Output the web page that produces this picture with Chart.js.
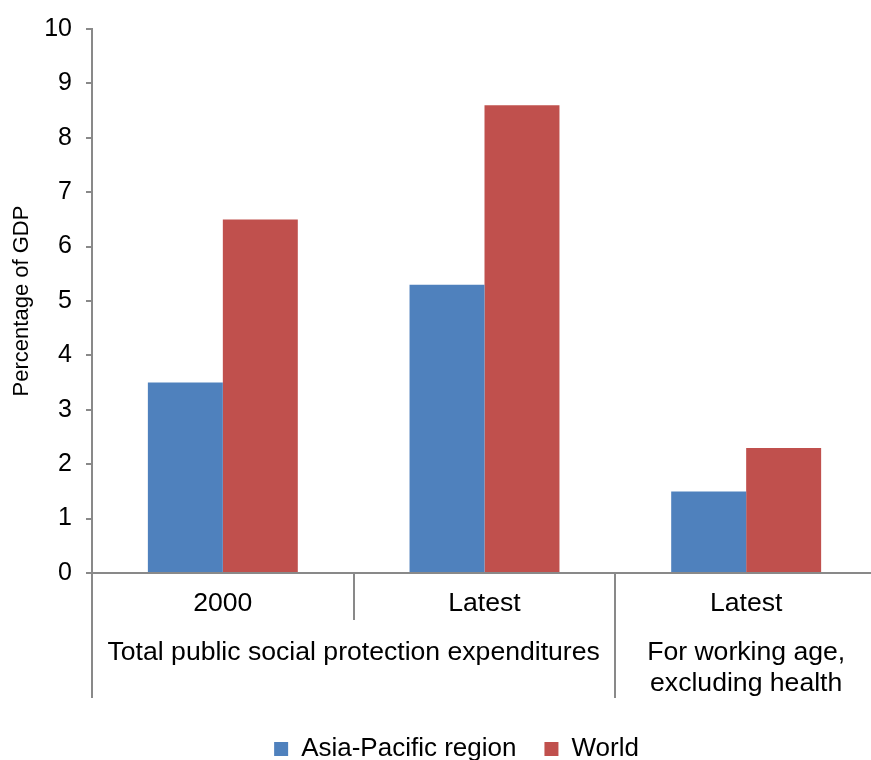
<!DOCTYPE html>
<html>
<head>
<meta charset="utf-8">
<script src="https://cdn.jsdelivr.net/npm/chart.js@4.4.0/dist/chart.umd.min.js"></script>
<style>
  html, body { margin: 0; padding: 0; background: #fff; overflow: hidden; }
  #wrap { width: 912px; height: 772px; }
</style>
</head>
<body>
<div id="wrap"><canvas id="c" width="912" height="772"></canvas></div>
<script>
// ---- data ----
const categories = ['2000', 'Latest', 'Latest'];
const groupLabels = [['Total public social protection expenditures'], ['For working age,', 'excluding health']];
const groupSpans = [[0, 1], [2, 2]];
const seriesNames = ['Asia-Pacific region', 'World'];
const asiaPacific = [3.5, 5.3, 1.5];
const world = [6.5, 8.6, 2.3];
const yTicks = [0, 1, 2, 3, 4, 5, 6, 7, 8, 9, 10];
const yTitle = 'Percentage of GDP';

const FONT = '"Liberation Sans", Arial, sans-serif';
const AXIS = '#898989';
Chart.defaults.color = '#000';
Chart.defaults.font.family = FONT;

const groupPlugin = {
  id: 'groupLabels',
  afterLayout(chart) {
    // nudge the legend to the reference's horizontal position
    if (chart.legend) { chart.legend.left += 18; chart.legend.right += 18; }
  },
  afterDraw(chart) {
    const ctx = chart.ctx;
    const x = chart.scales.x;
    const top = x.top;
    const half = (x.getPixelForValue(1) - x.getPixelForValue(0)) / 2;
    ctx.save();
    ctx.strokeStyle = AXIS;
    ctx.lineWidth = 2;
    // separators between categories
    const groupStarts = new Set(groupSpans.map(s => s[0]));
    for (let i = 0; i <= categories.length; i++) {
      const px = Math.round(x.getPixelForValue(i) - half);
      const full = groupStarts.has(i) || i === categories.length;
      ctx.beginPath();
      ctx.moveTo(px, top);
      ctx.lineTo(px, top + (full ? 125 : 47));
      ctx.stroke();
    }
    // group labels
    ctx.fillStyle = '#000';
    ctx.font = '26.6px ' + FONT;
    ctx.textAlign = 'center';
    ctx.textBaseline = 'alphabetic';
    groupSpans.forEach((s, gi) => {
      const cx = (x.getPixelForValue(s[0]) + x.getPixelForValue(s[1])) / 2;
      groupLabels[gi].forEach((line, li) => {
        ctx.fillText(line, cx, top + 87 + li * 31);
      });
    });
    ctx.restore();
  }
};

new Chart(document.getElementById('c'), {
  type: 'bar',
  data: {
    labels: categories,
    datasets: [
      { label: seriesNames[0], data: asiaPacific, backgroundColor: '#4F81BD', borderWidth: 0 },
      { label: seriesNames[1], data: world, backgroundColor: '#C0504D', borderWidth: 0 }
    ]
  },
  options: {
    responsive: false,
    devicePixelRatio: 1,
    animation: false,
    categoryPercentage: 0.573,
    barPercentage: 1,
    layout: { padding: { top: 27, right: 35, left: 0, bottom: 0 } },
    plugins: {
      tooltip: { enabled: false },
      legend: {
        position: 'bottom',
        labels: {
          boxWidth: 14, boxHeight: 14, padding: 28,
          font: { size: 26, family: FONT }, color: '#000'
        }
      }
    },
    scales: {
      y: {
        min: 0, max: 10,
        afterBuildTicks(scale) { scale.ticks = yTicks.map(v => ({ value: v })); },
        afterFit(scale) { scale.width = 92; },
        ticks: { stepSize: 1, padding: 14, font: { size: 25, family: FONT }, color: '#000' },
        grid: { drawOnChartArea: false, drawTicks: true, tickLength: 6, color: AXIS, lineWidth: 2 },
        border: { color: AXIS, width: 2 },
        title: { display: true, text: yTitle, font: { size: 22, family: FONT }, color: '#000', padding: { top: 9, bottom: 0 } }
      },
      x: {
        afterFit(scale) { scale.height = 135; },
        ticks: { padding: 15, font: { size: 26.6, family: FONT }, color: '#000', maxRotation: 0 },
        grid: { display: true, drawOnChartArea: false, drawTicks: false, color: AXIS },
        border: { color: AXIS, width: 2 }
      }
    }
  },
  plugins: [groupPlugin]
});
</script>
</body>
</html>
